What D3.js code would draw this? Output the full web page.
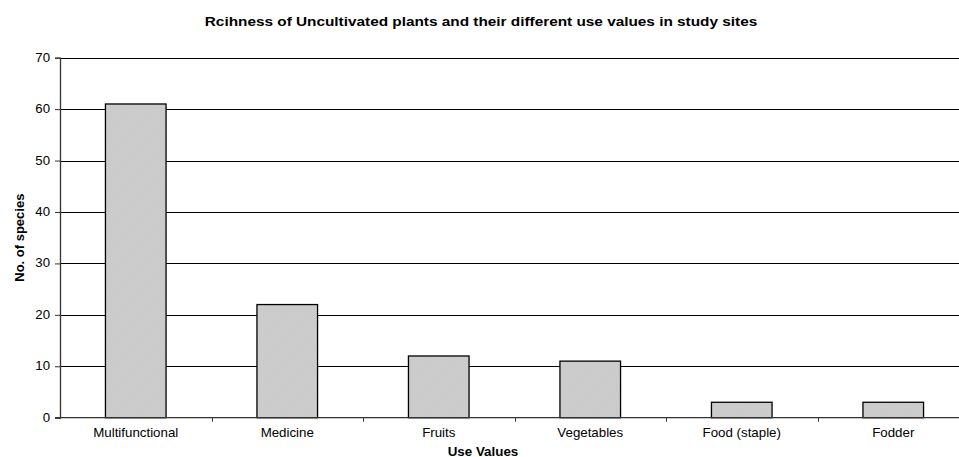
<!DOCTYPE html>
<html>
<head>
<meta charset="utf-8">
<script src="https://cdn.jsdelivr.net/npm/d3@7"></script>
<style>
  html, body { margin: 0; padding: 0; background: #fff; }
  svg { display: block; font-family: Arial, "Liberation Sans", sans-serif; }
</style>
</head>
<body>
<svg id="chart" width="959" height="457"></svg>
<script>
// Use-value categories and species counts
const categories = ["Multifunctional", "Medicine", "Fruits", "Vegetables", "Food (staple)", "Fodder"];
const speciesCounts = [61, 22, 12, 11, 3, 3];
const yTicks = [0, 10, 20, 30, 40, 50, 60, 70];

const svg = d3.select("#chart");
const plotLeft = 60, plotRight = 969, plotTop = 57.7, plotBottom = 417.7;

const x = d3.scaleBand().domain(categories).range([plotLeft, plotRight]).paddingInner(0.6).paddingOuter(0.3);
const xOuter = d3.scaleBand().domain(categories).range([plotLeft, plotRight]);
const y = d3.scaleLinear().domain([0, 70]).range([plotBottom, plotTop]);

// text placed at (px, py), widened horizontally by sx
function wideText(g, px, py, sx, str) {
  return g.append("g").attr("transform", `translate(${px},${py}) scale(${sx},1)`)
    .append("text").text(str);
}

// subtle hatch fill for bars
const defs = svg.append("defs");
const pat = defs.append("pattern").attr("id", "hatch").attr("patternUnits", "userSpaceOnUse")
  .attr("width", 3).attr("height", 3);
pat.append("rect").attr("width", 3).attr("height", 3).attr("fill", "#cdcdcd");
pat.append("path").attr("d", "M0,3 L3,0").attr("stroke", "#c4c4c4").attr("stroke-width", 0.6);

// gridlines
svg.append("g").selectAll("line").data(yTicks.filter(d => d > 0)).join("line")
  .attr("x1", plotLeft).attr("x2", 959)
  .attr("y1", d => Math.round(y(d)) + 0.5).attr("y2", d => Math.round(y(d)) + 0.5)
  .attr("stroke", "#000").attr("stroke-width", 1);

// bars
svg.append("g").selectAll("rect").data(categories).join("rect")
  .attr("x", d => x(d))
  .attr("y", (d, i) => y(speciesCounts[i]))
  .attr("width", x.bandwidth())
  .attr("height", (d, i) => plotBottom - y(speciesCounts[i]))
  .attr("fill", "url(#hatch)")
  .attr("stroke", "#000").attr("stroke-width", 1.3);

// y axis
const yAxis = d3.axisLeft(y).tickValues(yTicks).tickSize(5).tickFormat("");
const gy = svg.append("g").attr("transform", `translate(${plotLeft},0)`).call(yAxis);
gy.select(".domain").attr("stroke", "#333").attr("stroke-width", 1.3);
gy.selectAll(".tick line").attr("stroke", "#333");
const gyLab = svg.append("g");
yTicks.forEach(v => {
  wideText(gyLab, plotLeft - 10, y(v) + 4, 1.1, v)
    .attr("text-anchor", "end").attr("font-size", 12).attr("fill", "#000");
});

// x axis with ticks at category boundaries
const gx = svg.append("g").attr("transform", `translate(0,${plotBottom})`);
gx.append("line").attr("x1", plotLeft - 5).attr("x2", 959).attr("y1", 0).attr("y2", 0)
  .attr("stroke", "#333").attr("stroke-width", 1.3);
gx.selectAll(".bt").data(categories.slice(1)).join("line").attr("class", "bt")
  .attr("x1", d => Math.round(xOuter(d)) + 0.5).attr("x2", d => Math.round(xOuter(d)) + 0.5)
  .attr("y1", 0).attr("y2", 4).attr("stroke", "#333");
categories.forEach(c => {
  wideText(gx, xOuter(c) + xOuter.bandwidth() / 2, 19, 1.11, c)
    .attr("text-anchor", "middle").attr("font-size", 12).attr("fill", "#000");
});

// titles
wideText(svg, 481, 26, 1.28, "Rcihness of Uncultivated plants and their different use values in study sites")
  .attr("text-anchor", "middle").attr("font-size", 12).attr("font-weight", "bold");
wideText(svg, 483, 455.5, 1.07, "Use Values")
  .attr("text-anchor", "middle").attr("font-size", 12.5).attr("font-weight", "bold");
svg.append("text").attr("transform", `translate(24,${(plotTop + plotBottom) / 2}) rotate(-90)`)
  .attr("text-anchor", "middle").attr("font-size", 13).attr("font-weight", "bold")
  .text("No. of species");
</script>
</body>
</html>
